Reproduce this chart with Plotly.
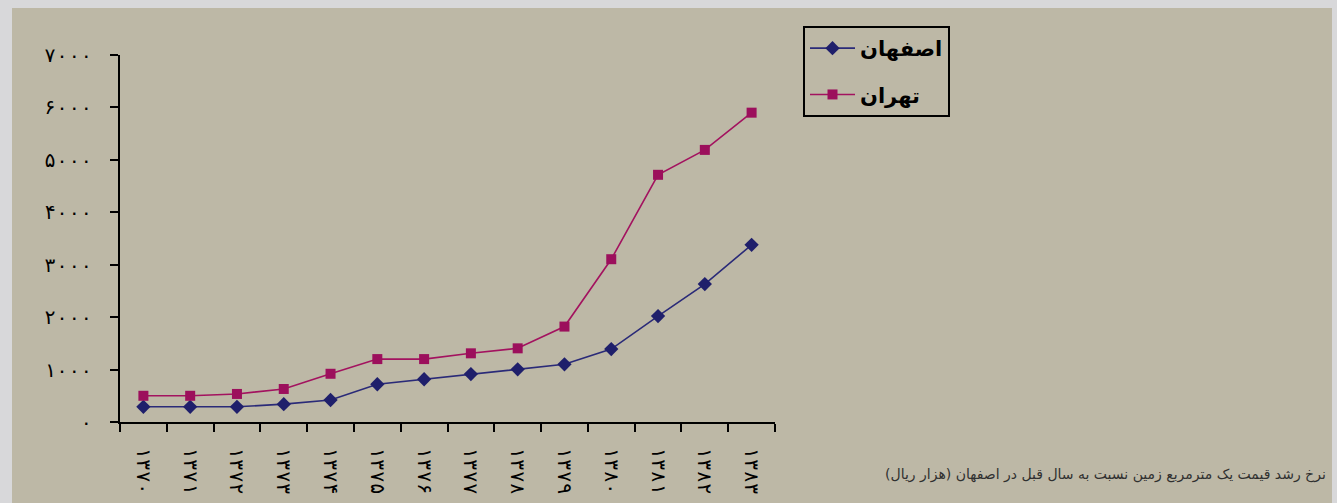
import plotly.graph_objects as go

years = ["۱۳۷۰", "۱۳۷۱", "۱۳۷۲", "۱۳۷۳", "۱۳۷۴", "۱۳۷۵", "۱۳۷۶",
         "۱۳۷۷", "۱۳۷۸", "۱۳۷۹", "۱۳۸۰", "۱۳۸۱", "۱۳۸۲", "۱۳۸۳"]
isfahan = [290, 290, 290, 340, 420, 720, 815, 915, 1005, 1100, 1390, 2020, 2630, 3380]
tehran = [500, 500, 535, 630, 920, 1200, 1200, 1310, 1405, 1820, 3105, 4715, 5190, 5900]
y_ticks = [0, 1000, 2000, 3000, 4000, 5000, 6000, 7000]
y_tick_labels = ["۰", "۱۰۰۰", "۲۰۰۰", "۳۰۰۰", "۴۰۰۰", "۵۰۰۰", "۶۰۰۰", "۷۰۰۰"]
caption = "نرخ رشد قیمت یک مترمربع زمین نسبت به سال قبل در اصفهان (هزار ریال)"

W, H = 1337, 503
L, R, T, B = 120, 775, 55, 422
pw, ph = R - L, B - T


def px(x):
    return (x - L) / pw


def py(y):
    return (B - y) / ph


fig = go.Figure()
fig.add_trace(go.Scatter(
    x=years, y=isfahan, name="اصفهان", mode="lines+markers",
    line=dict(color="#2a2a78", width=1.6),
    marker=dict(symbol="diamond", size=11, color="#1f1f6b"),
    legendgroup="a"))
fig.add_trace(go.Scatter(
    x=years, y=tehran, name="تهران", mode="lines+markers",
    line=dict(color="#a3125f", width=1.6),
    marker=dict(symbol="square", size=10, color="#9c0f5c"),
    legendgroup="b"))

fig.update_layout(
    width=W, height=H,
    margin=dict(l=L, r=W - R, t=T, b=H - B, autoexpand=False),
    paper_bgcolor="#d8d8da",
    plot_bgcolor="rgba(0,0,0,0)",
    font=dict(family="DejaVu Sans", color="black"),
    showlegend=True,
    legend=dict(
        x=px(803), y=py(26), xanchor="left", yanchor="top",
        bgcolor="rgba(0,0,0,0)", bordercolor="black", borderwidth=2,
        font=dict(size=21, family="DejaVu Sans", color="black", weight="bold"),
        traceorder="grouped", tracegroupgap=16, itemwidth=45,
    ),
    shapes=[dict(
        type="rect", xref="paper", yref="paper", layer="below",
        x0=px(12), x1=px(1332), y0=py(520), y1=py(8),
        fillcolor="#bdb8a6", line=dict(width=0))],
    annotations=[dict(
        text=caption, xref="paper", yref="paper",
        x=px(1328), y=py(474), xanchor="right", yanchor="middle",
        showarrow=False, font=dict(size=14, color="#303030", family="DejaVu Sans"))],
)

fig.update_xaxes(
    type="category", range=[-0.5, 13.5], showgrid=False, zeroline=False,
    showline=True, linecolor="black", linewidth=1.5,
    ticks="outside", tickson="boundaries", ticklen=8, tickcolor="black", tickwidth=1.5,
    tickangle=90, tickfont=dict(size=20, color="black", family="DejaVu Sans Mono"),
    ticklabelstandoff=19, automargin=False,
)
fig.update_yaxes(
    range=[0, 7000], tickvals=y_ticks, ticktext=y_tick_labels,
    showgrid=False, zeroline=False,
    showline=True, linecolor="black", linewidth=1.5,
    ticks="outside", ticklen=8, tickcolor="black", tickwidth=1.5,
    tickfont=dict(size=20, color="black", family="DejaVu Sans Mono"),
    ticklabelstandoff=14, automargin=False,
)

fig.write_html("out.html")
